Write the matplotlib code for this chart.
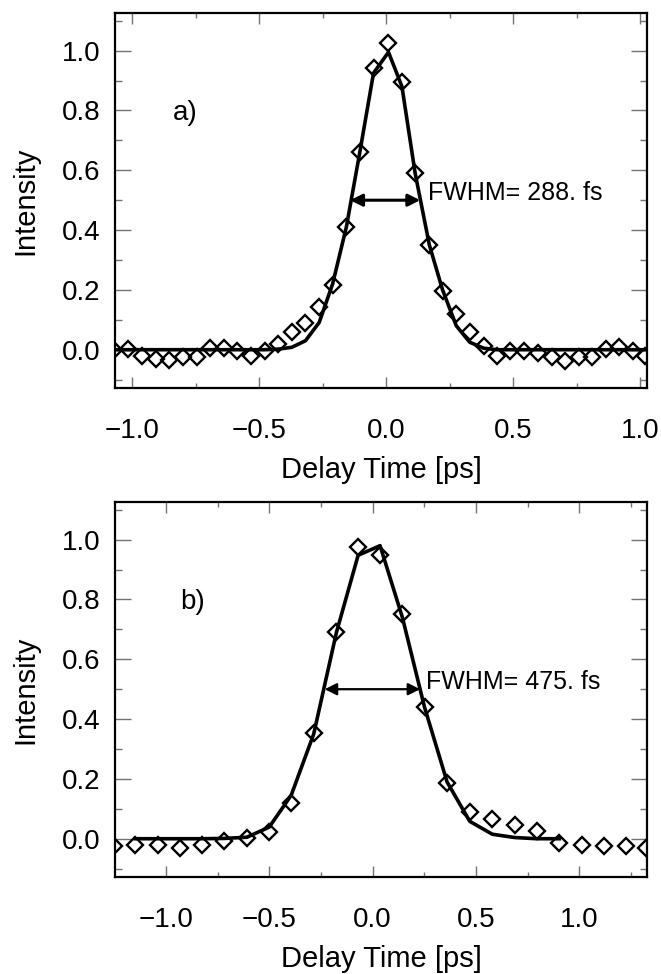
import matplotlib
matplotlib.use('Agg')
import matplotlib.pyplot as plt
from matplotlib.ticker import MultipleLocator, FuncFormatter

plt.rcParams['font.family'] = ['Liberation Sans', 'DejaVu Sans']

# panel a) measured points and fit
a_x = [-1.07, -1.016, -0.961, -0.908, -0.855, -0.801, -0.747, -0.694, -0.640, -0.586,
       -0.533, -0.479, -0.425, -0.372, -0.318, -0.264, -0.211, -0.157, -0.104, -0.050,
       0.009, 0.062, 0.114, 0.170, 0.222, 0.276, 0.329, 0.384, 0.436, 0.489,
       0.544, 0.597, 0.653, 0.706, 0.758, 0.811, 0.864, 0.916, 0.971, 1.021]
a_y = [0.0, 0.002, -0.020, -0.031, -0.035, -0.026, -0.023, 0.006, 0.006, -0.003,
       -0.020, -0.003, 0.019, 0.058, 0.091, 0.142, 0.216, 0.411, 0.66, 0.942,
       1.026, 0.896, 0.591, 0.350, 0.197, 0.119, 0.058, 0.013, -0.020, -0.003,
       -0.003, -0.012, -0.026, -0.037, -0.023, -0.023, 0.002, 0.008, -0.003, -0.020]
a_fit = [0.0, 0.0, 0.0, 0.0, 0.0, 0.0, 0.0, 0.0, 0.0, 0.0,
         0.0, 0.0, 0.002, 0.008, 0.03, 0.091, 0.22, 0.41, 0.66, 0.925,
         0.995, 0.88, 0.59, 0.35, 0.2, 0.08, 0.025, 0.005, 0.0, 0.0,
         0.0, 0.0, 0.0, 0.0, 0.0, 0.0, 0.0, 0.0, 0.0, 0.0]
a_half = [-0.142, 0.134]
a_text = "FWHM= 288. fs"

# panel b)
b_x = [-1.253, -1.148, -1.039, -0.932, -0.824, -0.718, -0.608, -0.5, -0.394, -0.285,
       -0.175, -0.07, 0.036, 0.144, 0.251, 0.360, 0.470, 0.579, 0.687, 0.794,
       0.903, 1.012, 1.119, 1.227, 1.324]
b_y = [-0.024, -0.022, -0.022, -0.03, -0.022, -0.007, 0.004, 0.021, 0.121, 0.352,
       0.692, 0.974, 0.948, 0.751, 0.439, 0.188, 0.088, 0.065, 0.045, 0.026,
       -0.013, -0.022, -0.024, -0.024, -0.03]
b_fit_x = b_x[1:21]
b_fit = [0.0, 0.0, 0.0, 0.0, 0.001, 0.005, 0.039, 0.145, 0.35, 0.69,
         0.948, 0.98, 0.74, 0.44, 0.19, 0.058, 0.015, 0.004, 0.0, 0.0]
b_half = [-0.232, 0.230]
b_text = "FWHM= 475. fs"


def fmt(v, pos):
    return ('%.1f' % v).replace('-', '\u2212')


def panel(ax, x, y, fx, fy, half, text, tag, tag_x, xlim, arrow_lw):
    ax.plot(fx, fy, color='black', lw=2.6, zorder=2)
    ax.plot(x, y, ls='none', marker='D', ms=7.8, mfc='none', mec='black', mew=1.7, zorder=3)
    ax.annotate('', xy=(half[0], 0.5), xytext=(half[1], 0.5),
                arrowprops=dict(arrowstyle='<|-|>', color='black', lw=arrow_lw,
                                mutation_scale=18, shrinkA=0, shrinkB=0))
    ax.text(half[1] + 0.03, 0.525, text, fontsize=18, va='center', ha='left')
    ax.text(tag_x, 0.79, tag, fontsize=20, va='center', ha='left')
    ax.set_xlim(xlim)
    ax.set_ylim(-0.128, 1.126)
    ax.xaxis.set_major_locator(MultipleLocator(0.5))
    ax.xaxis.set_minor_locator(MultipleLocator(0.25))
    ax.yaxis.set_major_locator(MultipleLocator(0.2))
    ax.yaxis.set_minor_locator(MultipleLocator(0.1))
    ax.tick_params(which='both', direction='in', top=True, right=True, color='0.45',
                   width=1, labelsize=20)
    ax.tick_params(axis='x', which='major', length=8, pad=21.5)
    ax.tick_params(axis='x', which='minor', length=3.5)
    ax.tick_params(axis='y', which='major', length=11.5, pad=10.5)
    ax.tick_params(axis='y', which='minor', length=5)
    ax.yaxis.set_major_formatter(FuncFormatter(fmt))
    ax.xaxis.set_major_formatter(FuncFormatter(fmt))
    for s in ax.spines.values():
        s.set_linewidth(1.6)
    ax.set_xlabel('Delay Time [ps]', fontsize=21, labelpad=9)
    ax.set_ylabel('Intensity', fontsize=21, labelpad=16)


fig = plt.figure(figsize=(6.61, 9.74), dpi=100)
ax1 = fig.add_axes([115 / 661, 1 - 388 / 974, 532 / 661, 375 / 974])
ax2 = fig.add_axes([115 / 661, 1 - 877 / 974, 532 / 661, 375 / 974])

panel(ax1, a_x, a_y, a_x, a_fit, a_half, a_text, 'a)', -0.84, (-1.068, 1.027), 2.2)
panel(ax2, b_x, b_y, b_fit_x, b_fit, b_half, b_text, 'b)', -0.93, (-1.246, 1.327), 1.6)

fig.savefig('out.png', dpi=100)
